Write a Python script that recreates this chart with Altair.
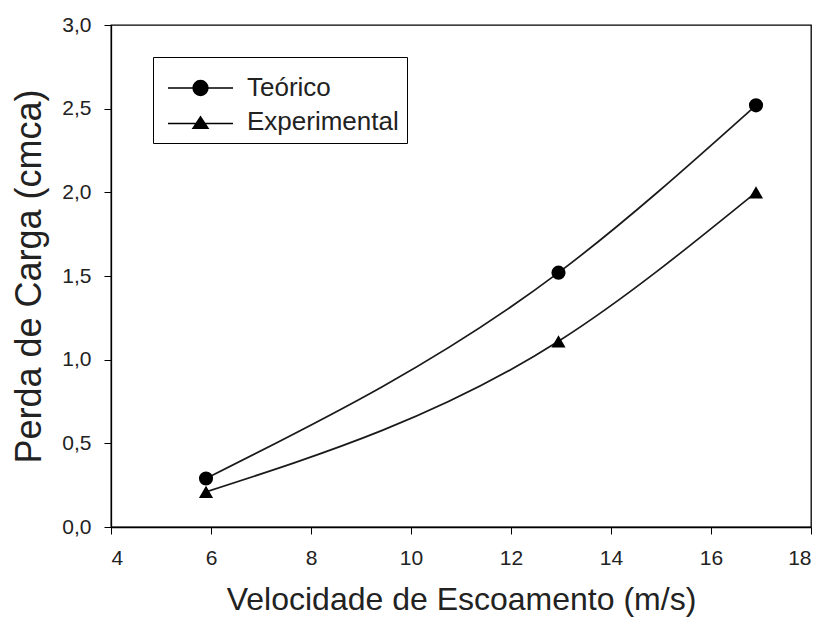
import altair as alt
import pandas as pd

series = ["Teórico", "Experimental"]
velocidade = [5.9, 12.95, 16.9]
teorico = [0.29, 1.52, 2.52]
experimental = [0.21, 1.11, 2.0]

rows = []
for v, t in zip(velocidade, teorico):
    rows.append({"v": v, "p": t, "serie": "Teórico"})
for v, e in zip(velocidade, experimental):
    rows.append({"v": v, "p": e, "serie": "Experimental"})
df = pd.DataFrame(rows)

FONT = "Liberation Sans"

x = alt.X("v:Q", scale=alt.Scale(domain=[4, 18], nice=False, zero=False),
          axis=alt.Axis(values=list(range(4, 19, 2)), title="Velocidade de Escoamento (m/s)",
                        titlePadding=16))
y = alt.Y("p:Q", scale=alt.Scale(domain=[0, 3], nice=False),
          axis=alt.Axis(values=[0, 0.5, 1, 1.5, 2, 2.5, 3],
                        labelExpr="replace(format(datum.value, '.1f'), '.', ',')",
                        title="Perda de Carga (cmca)", titlePadding=13, titleFontSize=36))

lines = alt.Chart(df).mark_line(interpolate="monotone", color="#1a1a1a", strokeWidth=1.7).encode(
    x=x, y=y, detail="serie:N"
)

points = alt.Chart(df).mark_point(filled=True, size=200, opacity=1, color="black").encode(
    x=x, y=y,
    shape=alt.Shape("serie:N", scale=alt.Scale(domain=series, range=["circle", "triangle-up"]),
                    legend=None),
)

# legend symbols: a line segment with the marker in its middle (unit = 10 px)
circ_path = "M-0.6,0 L5.9,0 M1.92,0 A0.73,0.73 0 1,0 3.38,0 A0.73,0.73 0 1,0 1.92,0 Z"
tri_path = "M-0.6,0.15 L5.9,0.15 M2.65,-0.5 L3.38,0.62 L1.92,0.62 Z"

leg = alt.Legend(
    title=" ", titleFontSize=8, titlePadding=2,
    orient="none", legendX=42, legendY=32,
    strokeColor="black", padding=8,
    labelFont=FONT, labelFontSize=26, labelColor="#222",
    symbolSize=400, symbolStrokeColor="black", symbolStrokeWidth=1.7,
    symbolFillColor="black", symbolOpacity=1,
    rowPadding=8, labelOffset=60, labelLimit=400,
)

legend_layer = alt.Chart(df).transform_filter("false").mark_point(
    filled=True, color="black", opacity=1
).encode(
    x=x, y=y,
    fill=alt.Fill("serie:N", scale=alt.Scale(domain=series, range=["black", "black"]), legend=None),
    shape=alt.Shape("serie:N", scale=alt.Scale(domain=series, range=[circ_path, tri_path]), legend=leg),
)

chart = alt.layer(lines, points, legend_layer).resolve_scale(shape="independent").properties(
    width=700, height=502,
    autosize=alt.AutoSizeParams(type="none"),
    padding={"left": 103, "top": 17, "right": 8, "bottom": 92},
).configure_view(stroke="black", strokeWidth=1.3).configure_axis(
    domainColor="black", domainWidth=1.3, tickColor="black", tickSize=7, grid=False,
    labelFont=FONT, labelFontSize=21, labelColor="#222", labelPadding=13,
    titleFont=FONT, titleFontSize=32, titleFontWeight="normal", titleColor="#222",
)

chart.save("out.html", embed_options={"renderer": "svg", "actions": False})
